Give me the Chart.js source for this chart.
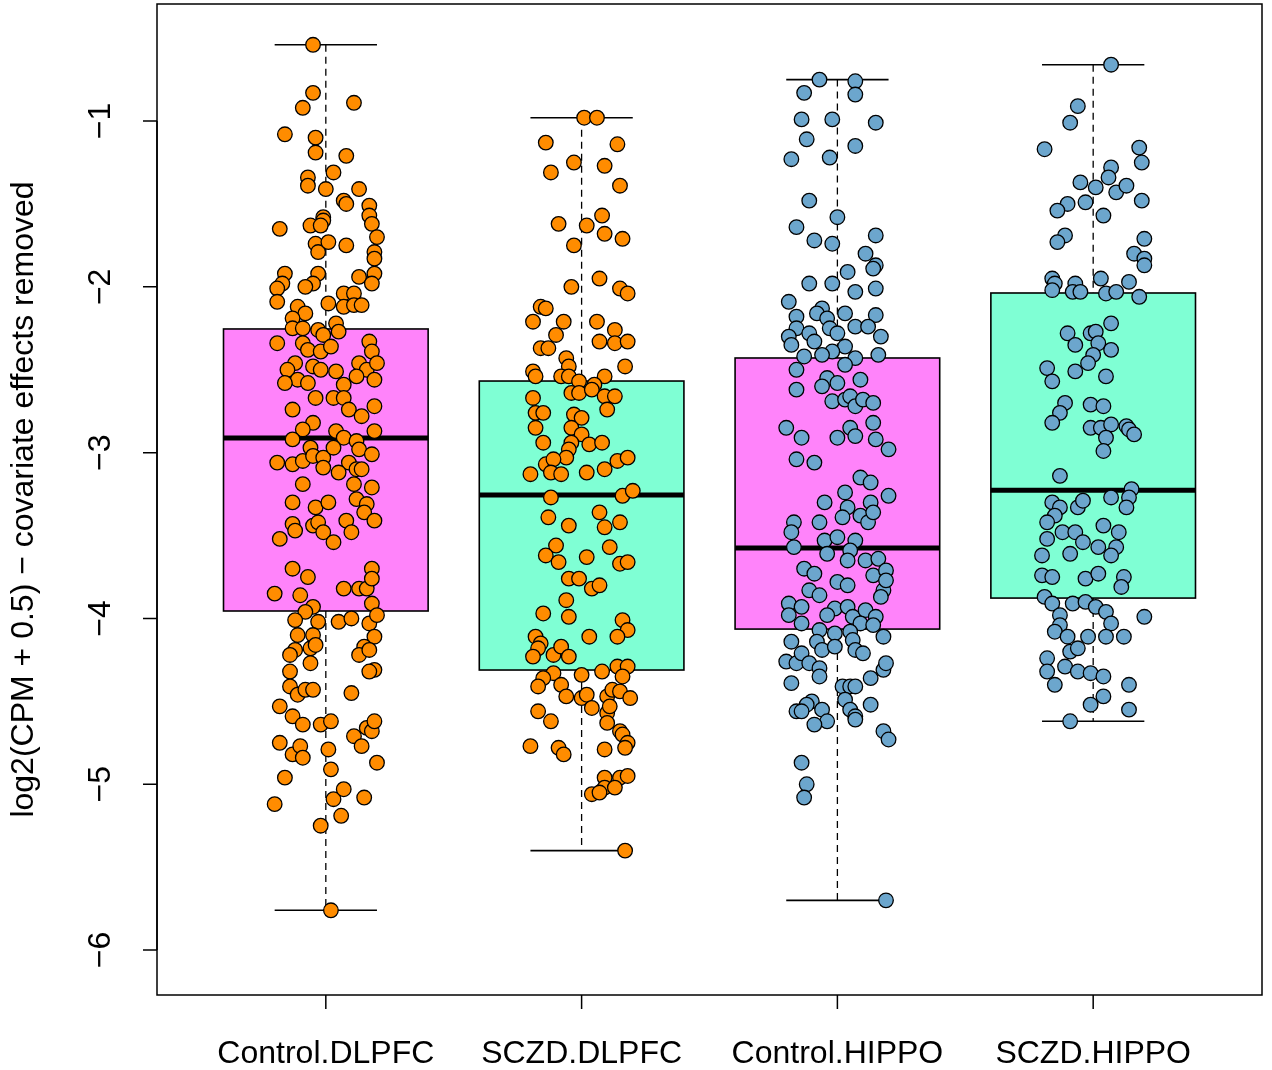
<!DOCTYPE html>
<html>
<head>
<meta charset="utf-8">
<script src="https://cdn.jsdelivr.net/npm/chart.js@4.4.1/dist/chart.umd.min.js"></script>
<style>
  body { margin: 0; background: #fff; }
  canvas { display: block; }
</style>
</head>
<body>
<canvas id="myChart" width="1272" height="1070"></canvas>
<script>
const categories = ["Control.DLPFC", "SCZD.DLPFC", "Control.HIPPO", "SCZD.HIPPO"];
const yTicks = [-6, -5, -4, -3, -2, -1];

// box stats
const q1 = [-3.955, -4.311, -4.064, -3.877];
const median = [-2.912, -3.256, -3.575, -3.226];
const q3 = [-2.254, -2.568, -2.429, -2.037];
const whiskerLow = [-5.76, -5.40, -5.70, -4.62];
const whiskerHigh = [-0.54, -0.98, -0.75, -0.66];

const boxColors = ["#FF83FA", "#7FFFD4", "#FF83FA", "#7FFFD4"];
const pointColors = ["#FF8C00", "#FF8C00", "#6CA6CD", "#6CA6CD"];

// jittered points: [jitter, value]
const controlDlpfc = [[-0.05,-0.54],[-0.05,-0.83],[-0.09,-0.92],[0.11,-0.89],[-0.16,-1.08],[-0.04,-1.10],[-0.04,-1.19],[0.08,-1.21],[-0.07,-1.34],[-0.07,-1.39],[0.03,-1.31],[0.00,-1.41],[0.13,-1.41],[0.07,-1.48],[0.08,-1.50],[-0.01,-1.58],[-0.01,-1.60],[0.17,-1.51],[0.17,-1.57],[0.18,-1.62],[-0.18,-1.65],[-0.06,-1.63],[-0.02,-1.63],[0.20,-1.70],[-0.04,-1.74],[-0.03,-1.79],[0.01,-1.73],[0.08,-1.75],[0.19,-1.79],[0.19,-1.83],[-0.16,-1.92],[-0.17,-1.98],[-0.19,-2.01],[-0.19,-2.09],[-0.03,-1.92],[-0.05,-1.98],[-0.08,-2.00],[0.13,-1.94],[0.19,-1.92],[0.18,-1.98],[0.01,-2.10],[0.07,-2.04],[0.11,-2.04],[0.07,-2.12],[0.11,-2.11],[0.14,-2.11],[-0.11,-2.12],[-0.08,-2.16],[-0.13,-2.19],[-0.13,-2.25],[-0.09,-2.25],[0.04,-2.22],[-0.03,-2.26],[-0.01,-2.29],[0.05,-2.27],[-0.19,-2.34],[0.17,-2.33],[0.18,-2.39],[-0.09,-2.34],[-0.07,-2.38],[-0.02,-2.39],[0.02,-2.36],[-0.12,-2.46],[-0.15,-2.50],[-0.11,-2.56],[-0.16,-2.58],[-0.07,-2.58],[-0.05,-2.48],[-0.02,-2.50],[0.04,-2.51],[0.07,-2.59],[0.13,-2.46],[0.16,-2.50],[0.20,-2.46],[0.19,-2.56],[0.12,-2.54],[-0.04,-2.67],[0.03,-2.67],[0.07,-2.67],[0.09,-2.74],[-0.13,-2.74],[0.19,-2.72],[0.14,-2.78],[-0.05,-2.82],[-0.09,-2.86],[-0.13,-2.92],[0.04,-2.87],[0.07,-2.91],[0.12,-2.93],[0.13,-2.98],[0.19,-2.87],[-0.06,-2.97],[-0.19,-3.06],[-0.13,-3.07],[-0.09,-3.05],[-0.05,-3.02],[-0.01,-3.03],[-0.01,-3.09],[0.03,-2.97],[0.18,-3.01],[0.09,-3.06],[0.05,-3.12],[0.12,-3.10],[0.14,-3.10],[0.11,-3.19],[0.18,-3.21],[-0.09,-3.19],[-0.13,-3.30],[-0.04,-3.33],[0.01,-3.30],[0.12,-3.28],[0.16,-3.31],[0.15,-3.36],[0.19,-3.41],[-0.13,-3.43],[-0.12,-3.47],[-0.05,-3.44],[-0.03,-3.42],[-0.01,-3.48],[0.03,-3.54],[0.08,-3.41],[0.10,-3.48],[-0.18,-3.52],[-0.13,-3.70],[-0.07,-3.75],[-0.20,-3.85],[-0.10,-3.86],[0.07,-3.82],[0.13,-3.82],[0.16,-3.82],[0.18,-3.70],[0.18,-3.76],[0.18,-3.91],[-0.05,-3.93],[-0.08,-3.96],[-0.12,-4.01],[-0.03,-4.02],[0.05,-4.02],[0.10,-4.00],[0.17,-4.03],[0.20,-3.98],[0.19,-4.11],[-0.11,-4.10],[-0.05,-4.10],[-0.06,-4.18],[-0.12,-4.19],[-0.14,-4.22],[-0.04,-4.16],[0.15,-4.17],[0.13,-4.22],[0.17,-4.19],[-0.14,-4.32],[-0.06,-4.27],[0.19,-4.31],[0.17,-4.32],[-0.14,-4.41],[-0.11,-4.46],[-0.08,-4.43],[-0.05,-4.43],[0.10,-4.45],[-0.18,-4.53],[-0.13,-4.59],[-0.09,-4.64],[-0.02,-4.64],[0.02,-4.62],[0.11,-4.71],[0.14,-4.77],[0.16,-4.66],[0.18,-4.68],[0.19,-4.62],[-0.18,-4.75],[-0.13,-4.82],[-0.10,-4.77],[-0.09,-4.84],[0.01,-4.79],[0.02,-4.91],[0.20,-4.87],[-0.16,-4.96],[-0.20,-5.12],[0.03,-5.09],[0.07,-5.03],[0.15,-5.08],[0.06,-5.19],[-0.02,-5.25],[0.02,-5.76]];

const sczdDlpfc = [[0.01,-0.98],[0.06,-0.98],[-0.14,-1.13],[0.14,-1.14],[-0.12,-1.31],[-0.03,-1.25],[0.09,-1.27],[0.15,-1.39],[-0.09,-1.62],[0.02,-1.63],[0.08,-1.57],[0.09,-1.68],[0.16,-1.71],[-0.03,-1.75],[-0.04,-2.00],[0.07,-1.95],[0.15,-2.01],[0.18,-2.04],[-0.16,-2.12],[-0.14,-2.13],[-0.19,-2.21],[-0.07,-2.21],[0.06,-2.21],[0.13,-2.26],[-0.10,-2.29],[0.07,-2.33],[0.13,-2.34],[0.18,-2.33],[-0.16,-2.37],[-0.13,-2.37],[-0.06,-2.43],[-0.05,-2.48],[-0.19,-2.51],[-0.18,-2.54],[-0.08,-2.54],[-0.05,-2.54],[0.17,-2.48],[-0.01,-2.57],[0.09,-2.54],[0.05,-2.59],[-0.19,-2.67],[-0.04,-2.64],[-0.01,-2.64],[0.04,-2.62],[0.09,-2.66],[0.13,-2.66],[0.10,-2.74],[-0.18,-2.76],[-0.15,-2.76],[-0.18,-2.85],[-0.03,-2.77],[0.00,-2.79],[-0.04,-2.85],[0.00,-2.89],[-0.15,-2.94],[0.03,-2.95],[0.08,-2.94],[-0.04,-2.94],[-0.05,-2.98],[-0.06,-3.03],[-0.14,-3.07],[-0.11,-3.04],[-0.12,-3.12],[-0.08,-3.13],[-0.20,-3.13],[0.02,-3.12],[0.09,-3.10],[0.14,-3.05],[0.18,-3.03],[-0.12,-3.27],[0.16,-3.26],[0.20,-3.23],[-0.13,-3.39],[-0.05,-3.44],[0.07,-3.36],[0.09,-3.45],[0.15,-3.42],[-0.10,-3.56],[-0.14,-3.62],[-0.09,-3.66],[0.02,-3.63],[0.11,-3.57],[0.15,-3.67],[0.18,-3.66],[-0.05,-3.76],[-0.01,-3.76],[0.04,-3.82],[0.07,-3.80],[-0.06,-3.89],[-0.15,-3.97],[-0.05,-3.99],[0.16,-4.01],[0.18,-4.07],[0.14,-4.11],[0.03,-4.11],[-0.18,-4.11],[-0.16,-4.15],[-0.17,-4.18],[-0.19,-4.23],[-0.11,-4.22],[-0.08,-4.17],[-0.05,-4.23],[0.08,-4.32],[0.14,-4.29],[0.18,-4.29],[0.16,-4.35],[-0.11,-4.33],[0.00,-4.34],[-0.15,-4.36],[-0.17,-4.41],[-0.08,-4.40],[-0.06,-4.47],[0.00,-4.48],[0.02,-4.46],[0.04,-4.54],[0.10,-4.47],[0.12,-4.43],[0.15,-4.44],[0.19,-4.48],[0.10,-4.57],[0.11,-4.53],[0.10,-4.63],[-0.17,-4.56],[-0.12,-4.62],[0.15,-4.68],[0.16,-4.70],[0.18,-4.75],[0.17,-4.78],[-0.20,-4.77],[-0.09,-4.78],[-0.07,-4.82],[0.09,-4.79],[0.09,-4.96],[0.15,-4.96],[0.18,-4.95],[0.09,-5.02],[0.13,-5.02],[0.04,-5.06],[0.07,-5.05],[0.17,-5.40]];

const controlHippo = [[-0.07,-0.75],[0.07,-0.76],[-0.13,-0.83],[0.07,-0.84],[-0.14,-0.99],[-0.02,-0.99],[0.15,-1.01],[-0.12,-1.11],[0.07,-1.15],[-0.18,-1.23],[-0.03,-1.22],[-0.11,-1.48],[0.00,-1.58],[-0.16,-1.64],[-0.09,-1.72],[-0.02,-1.74],[0.15,-1.69],[0.11,-1.80],[0.15,-1.87],[0.14,-1.89],[0.04,-1.91],[-0.11,-1.98],[-0.02,-1.98],[0.07,-2.03],[0.15,-2.01],[-0.19,-2.09],[-0.06,-2.13],[-0.08,-2.16],[-0.04,-2.19],[0.03,-2.16],[-0.16,-2.18],[0.15,-2.17],[-0.16,-2.25],[-0.19,-2.30],[-0.18,-2.35],[-0.11,-2.28],[-0.09,-2.33],[-0.03,-2.25],[0.00,-2.28],[0.07,-2.24],[0.12,-2.24],[0.17,-2.30],[0.03,-2.36],[-0.02,-2.39],[-0.06,-2.41],[-0.13,-2.42],[0.07,-2.43],[0.16,-2.41],[0.03,-2.47],[-0.16,-2.50],[-0.04,-2.55],[-0.06,-2.60],[0.00,-2.58],[0.09,-2.56],[-0.16,-2.62],[-0.02,-2.69],[0.03,-2.68],[0.05,-2.66],[0.07,-2.72],[0.10,-2.68],[0.14,-2.70],[-0.20,-2.85],[-0.14,-2.91],[0.00,-2.91],[0.05,-2.85],[0.07,-2.90],[0.14,-2.82],[0.15,-2.92],[0.20,-2.98],[-0.16,-3.04],[-0.09,-3.06],[0.09,-3.15],[0.13,-3.18],[-0.05,-3.30],[0.03,-3.24],[0.04,-3.33],[0.02,-3.39],[0.09,-3.38],[0.12,-3.42],[0.13,-3.30],[0.14,-3.36],[0.20,-3.26],[-0.17,-3.42],[-0.18,-3.48],[-0.07,-3.42],[-0.17,-3.57],[-0.05,-3.53],[0.00,-3.51],[-0.04,-3.61],[0.07,-3.53],[0.05,-3.59],[0.04,-3.65],[0.11,-3.65],[0.14,-3.74],[0.16,-3.64],[0.19,-3.71],[-0.13,-3.70],[-0.09,-3.73],[0.00,-3.78],[0.04,-3.80],[-0.11,-3.83],[-0.07,-3.86],[-0.19,-3.91],[-0.14,-3.93],[-0.19,-3.98],[-0.14,-4.03],[-0.01,-3.94],[-0.04,-3.98],[0.04,-3.93],[0.06,-3.99],[0.11,-3.95],[0.15,-3.99],[0.18,-3.83],[0.19,-3.77],[0.17,-3.87],[0.09,-4.03],[0.14,-4.04],[0.18,-4.11],[-0.18,-4.14],[-0.07,-4.07],[-0.01,-4.09],[-0.08,-4.14],[0.05,-4.08],[0.06,-4.13],[-0.06,-4.19],[-0.01,-4.17],[0.07,-4.19],[0.10,-4.21],[-0.20,-4.26],[-0.16,-4.27],[-0.14,-4.21],[-0.11,-4.27],[-0.07,-4.30],[-0.07,-4.35],[0.18,-4.31],[0.19,-4.27],[-0.18,-4.39],[0.13,-4.36],[0.02,-4.41],[0.05,-4.41],[0.07,-4.41],[0.03,-4.49],[0.05,-4.55],[0.07,-4.59],[0.07,-4.61],[0.13,-4.52],[-0.10,-4.50],[-0.12,-4.52],[-0.16,-4.56],[-0.14,-4.56],[-0.06,-4.55],[-0.04,-4.62],[-0.09,-4.64],[0.18,-4.68],[0.20,-4.73],[-0.14,-4.87],[-0.12,-5.00],[-0.13,-5.08],[0.19,-5.70]];

const sczdHippo = [[0.07,-0.66],[-0.06,-0.91],[-0.09,-1.01],[-0.19,-1.17],[0.18,-1.16],[0.19,-1.25],[0.07,-1.28],[0.06,-1.34],[-0.05,-1.37],[0.01,-1.40],[0.09,-1.43],[0.13,-1.39],[0.19,-1.48],[-0.10,-1.50],[-0.14,-1.54],[-0.03,-1.49],[0.04,-1.57],[-0.11,-1.69],[-0.14,-1.73],[0.20,-1.71],[0.16,-1.80],[0.20,-1.83],[0.20,-1.87],[-0.16,-1.95],[-0.15,-1.98],[-0.16,-2.02],[-0.07,-1.98],[-0.08,-2.03],[-0.05,-2.03],[0.03,-1.95],[0.05,-2.04],[0.09,-2.03],[0.14,-1.97],[0.18,-2.06],[0.07,-2.22],[-0.10,-2.28],[-0.01,-2.28],[0.01,-2.27],[-0.07,-2.35],[0.02,-2.34],[0.07,-2.38],[0.00,-2.41],[-0.02,-2.46],[-0.18,-2.49],[-0.16,-2.57],[-0.07,-2.51],[0.05,-2.54],[-0.11,-2.70],[-0.13,-2.76],[-0.16,-2.82],[-0.01,-2.71],[0.04,-2.72],[-0.01,-2.85],[0.03,-2.85],[0.07,-2.83],[0.05,-2.91],[0.04,-2.99],[0.13,-2.84],[0.14,-2.86],[0.16,-2.89],[-0.13,-3.14],[0.15,-3.22],[0.14,-3.27],[0.13,-3.33],[0.07,-3.27],[-0.16,-3.30],[-0.13,-3.33],[-0.15,-3.38],[-0.06,-3.33],[-0.04,-3.29],[-0.18,-3.42],[-0.18,-3.52],[-0.12,-3.48],[-0.07,-3.48],[-0.04,-3.54],[0.04,-3.44],[0.10,-3.48],[0.09,-3.57],[0.07,-3.62],[0.02,-3.57],[-0.09,-3.61],[-0.20,-3.62],[-0.20,-3.74],[-0.16,-3.75],[-0.03,-3.76],[0.02,-3.73],[0.12,-3.75],[0.11,-3.81],[-0.19,-3.87],[-0.16,-3.91],[-0.08,-3.91],[-0.03,-3.90],[0.01,-3.93],[0.05,-3.96],[0.07,-4.03],[0.20,-3.99],[-0.13,-3.98],[-0.13,-4.04],[-0.15,-4.08],[-0.10,-4.11],[-0.02,-4.11],[0.05,-4.11],[0.12,-4.11],[-0.09,-4.20],[-0.06,-4.18],[-0.18,-4.24],[-0.18,-4.32],[-0.15,-4.40],[-0.11,-4.29],[-0.06,-4.32],[-0.01,-4.33],[0.04,-4.35],[0.14,-4.40],[0.04,-4.47],[-0.01,-4.52],[0.14,-4.55],[-0.09,-4.62]];

const allGroups = [controlDlpfc, sczdDlpfc, controlHippo, sczdHippo];

const FONT = '32px "Liberation Sans", Arial, sans-serif';

// boxes, whiskers and medians go under the points
const boxPlugin = {
  id: "boxes",
  beforeDatasetsDraw(chart) {
    const ctx = chart.ctx;
    const x = chart.scales.x;
    const y = chart.scales.y;
    ctx.save();
    ctx.strokeStyle = "#000";
    for (let i = 0; i < categories.length; i++) {
      const cx = x.getPixelForValue(i + 1);
      const left = x.getPixelForValue(i + 1 - 0.4);
      const right = x.getPixelForValue(i + 1 + 0.4);
      const capL = x.getPixelForValue(i + 1 - 0.2);
      const capR = x.getPixelForValue(i + 1 + 0.2);
      const top = y.getPixelForValue(q3[i]);
      const bottom = y.getPixelForValue(q1[i]);

      // dashed whiskers
      ctx.lineWidth = 1.3;
      ctx.setLineDash([7, 5]);
      ctx.beginPath();
      ctx.moveTo(cx, y.getPixelForValue(whiskerHigh[i]));
      ctx.lineTo(cx, top);
      ctx.moveTo(cx, bottom);
      ctx.lineTo(cx, y.getPixelForValue(whiskerLow[i]));
      ctx.stroke();
      ctx.setLineDash([]);

      // caps
      ctx.lineWidth = 1.6;
      ctx.beginPath();
      ctx.moveTo(capL, y.getPixelForValue(whiskerHigh[i]));
      ctx.lineTo(capR, y.getPixelForValue(whiskerHigh[i]));
      ctx.moveTo(capL, y.getPixelForValue(whiskerLow[i]));
      ctx.lineTo(capR, y.getPixelForValue(whiskerLow[i]));
      ctx.stroke();

      // box
      ctx.fillStyle = boxColors[i];
      ctx.fillRect(left, top, right - left, bottom - top);
      ctx.lineWidth = 1.6;
      ctx.strokeRect(left, top, right - left, bottom - top);

      // median
      ctx.lineWidth = 5;
      ctx.beginPath();
      ctx.moveTo(left, y.getPixelForValue(median[i]));
      ctx.lineTo(right, y.getPixelForValue(median[i]));
      ctx.stroke();
    }
    ctx.restore();
  },
};

// frame, ticks and labels in base-R style
const axesPlugin = {
  id: "axes",
  afterDraw(chart) {
    const ctx = chart.ctx;
    const a = chart.chartArea;
    const x = chart.scales.x;
    const y = chart.scales.y;
    ctx.save();
    ctx.strokeStyle = "#000";
    ctx.fillStyle = "#000";
    ctx.lineWidth = 1.5;
    ctx.strokeRect(a.left, a.top, a.right - a.left, a.bottom - a.top);

    // y axis
    ctx.beginPath();
    ctx.moveTo(a.left, y.getPixelForValue(yTicks[0]));
    ctx.lineTo(a.left, y.getPixelForValue(yTicks[yTicks.length - 1]));
    yTicks.forEach((t) => {
      const py = y.getPixelForValue(t);
      ctx.moveTo(a.left, py);
      ctx.lineTo(a.left - 14, py);
    });
    ctx.stroke();
    ctx.font = FONT;
    ctx.textAlign = "center";
    ctx.textBaseline = "middle";
    yTicks.forEach((t) => {
      const py = y.getPixelForValue(t);
      ctx.save();
      ctx.translate(a.left - 56, py);
      ctx.rotate(-Math.PI / 2);
      ctx.fillText("\u2212" + Math.abs(t), 0, 0);
      ctx.restore();
    });

    // x axis
    ctx.beginPath();
    categories.forEach((c, i) => {
      const px = x.getPixelForValue(i + 1);
      ctx.moveTo(px, a.bottom);
      ctx.lineTo(px, a.bottom + 14);
    });
    ctx.stroke();
    categories.forEach((c, i) => {
      ctx.fillText(c, x.getPixelForValue(i + 1), a.bottom + 59);
    });

    // y title
    ctx.save();
    ctx.translate(24, (a.top + a.bottom) / 2);
    ctx.rotate(-Math.PI / 2);
    ctx.fillText("log2(CPM + 0.5) \u2212 covariate effects removed", 0, 0);
    ctx.restore();
    ctx.restore();
  },
};

const ctx = document.getElementById("myChart");

new Chart(ctx, {
  type: "scatter",
  data: {
    datasets: allGroups.map((pts, i) => ({
      label: categories[i],
      data: pts.map((p) => ({ x: i + 1 + p[0], y: p[1] })),
      backgroundColor: pointColors[i],
      borderColor: "#000",
      borderWidth: 1.3,
      pointRadius: 7.3,
    })),
  },
  options: {
    responsive: false,
    animation: false,
    devicePixelRatio: 1,
    layout: { autoPadding: false, padding: { left: 157, top: 4, right: 10, bottom: 75 } },
    plugins: { legend: { display: false }, tooltip: { enabled: false } },
    scales: {
      x: { type: "linear", min: 0.34, max: 4.66, display: false },
      y: { type: "linear", min: -6.271, max: -0.294, display: false },
    },
  },
  plugins: [boxPlugin, axesPlugin],
});
</script>
</body>
</html>
